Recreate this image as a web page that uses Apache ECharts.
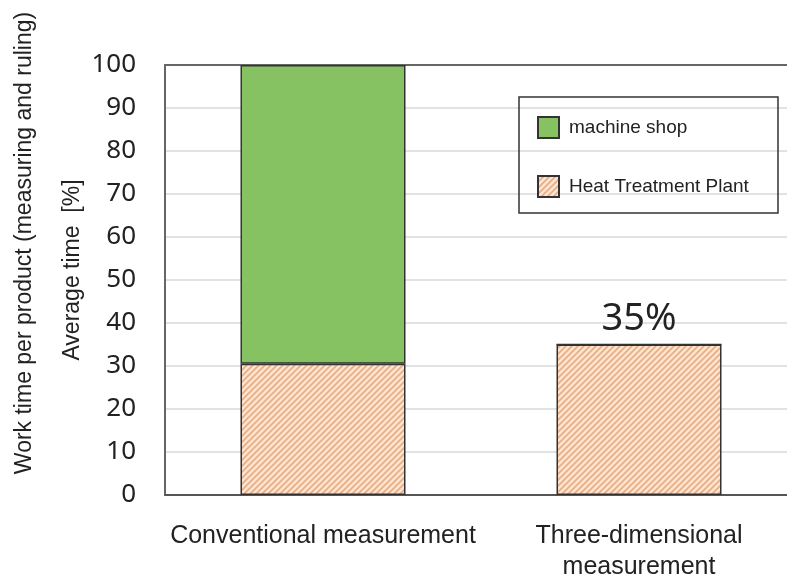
<!DOCTYPE html>
<html>
<head>
<meta charset="utf-8">
<script src="https://cdn.jsdelivr.net/npm/echarts@6/dist/echarts.min.js"></script>
<style>
  html, body { margin: 0; padding: 0; background: #fff; }
  #chart { width: 787px; height: 578px; }
</style>
</head>
<body>
<div id="chart"></div>
<script>
var categories = ['Conventional measurement', 'Three-dimensional\nmeasurement'];
var heatPlant = [30.5, 35];
var machineShop = [69.5, 0];
var yTicks = [0, 10, 20, 30, 40, 50, 60, 70, 80, 90, 100];

// hatch pattern for the heat treatment plant
function makeHatch() {
  var c = document.createElement('canvas');
  c.width = 6; c.height = 6;
  var ctx = c.getContext('2d');
  ctx.fillStyle = '#fbe4d3';
  ctx.fillRect(0, 0, 6, 6);
  ctx.strokeStyle = '#e6ad82';
  ctx.lineWidth = 1.6;
  ctx.beginPath();
  ctx.moveTo(-1, 7); ctx.lineTo(7, -1);
  ctx.moveTo(-4, 4); ctx.lineTo(4, -4);
  ctx.moveTo(2, 10); ctx.lineTo(10, 2);
  ctx.stroke();
  return c;
}
var hatch = { image: makeHatch(), repeat: 'repeat' };

var myChart = echarts.init(document.getElementById('chart'));
var option = {
  animation: false,
  grid: { left: 165, top: 65, width: 632, height: 430, outerBoundsMode: 'none' },
  legend: {
    orient: 'vertical',
    left: 532, top: 111,
    itemWidth: 21, itemHeight: 21, itemGap: 36,
    icon: 'rect',
    textStyle: { fontFamily: 'Liberation Sans', fontSize: 19, color: '#222', padding: [0, 0, 0, 5] },
    data: ['machine shop', 'Heat Treatment Plant']
  },
  graphic: [
    { type: 'rect', shape: { x: 519, y: 97, width: 259, height: 116 },
      style: { fill: 'none', stroke: '#333', lineWidth: 1.5 }, z: 100 },
    { type: 'text', x: 25, y: 243, rotation: Math.PI / 2,
      style: { text: 'Work time per product (measuring and ruling)', fontFamily: 'Liberation Sans',
        fontSize: 23, fill: '#222', align: 'center', verticalAlign: 'middle' } },
    { type: 'text', x: 73, y: 270, rotation: Math.PI / 2,
      style: { text: 'Average time  [%]', fontFamily: 'Liberation Sans',
        fontSize: 23, fill: '#222', align: 'center', verticalAlign: 'middle' } }
  ],
  xAxis: [{
    type: 'category',
    data: categories,
    axisLine: { lineStyle: { color: '#555', width: 2 } },
    axisTick: { show: false },
    axisLabel: { interval: 0, fontFamily: 'Liberation Sans', fontSize: 25, color: '#222',
      margin: 26, lineHeight: 31 }
  }, {
    type: 'category',
    position: 'top',
    data: categories,
    axisLine: { lineStyle: { color: '#666', width: 2 } },
    axisTick: { show: false },
    axisLabel: { show: false }
  }],
  yAxis: {
    type: 'value',
    min: 0, max: 100, interval: 10,
    axisLine: { show: true, lineStyle: { color: '#666', width: 2 } },
    axisTick: { show: false },
    axisLabel: {
      fontFamily: 'Noto Sans', fontSize: 26, color: '#222', margin: 29,
      formatter: function (v) { return yTicks.indexOf(v) >= 0 ? String(v) : ''; }
    },
    splitLine: { lineStyle: { color: '#d9d9d9', width: 1.5 } }
  },
  series: [{
    name: 'Heat Treatment Plant',
    type: 'bar',
    stack: 'total',
    barWidth: 165,
    itemStyle: { color: hatch, borderColor: '#333', borderWidth: 1.5 },
    data: [
      heatPlant[0],
      { value: heatPlant[1], label: { show: true, position: 'top', distance: 6,
        formatter: '35%', fontFamily: 'Noto Sans', fontSize: 38, color: '#222' } }
    ]
  }, {
    name: 'machine shop',
    type: 'bar',
    stack: 'total',
    barWidth: 165,
    itemStyle: { color: '#86c262', borderColor: '#333', borderWidth: 1.5 },
    data: machineShop
  }]
};
myChart.setOption(option);
</script>
</body>
</html>
